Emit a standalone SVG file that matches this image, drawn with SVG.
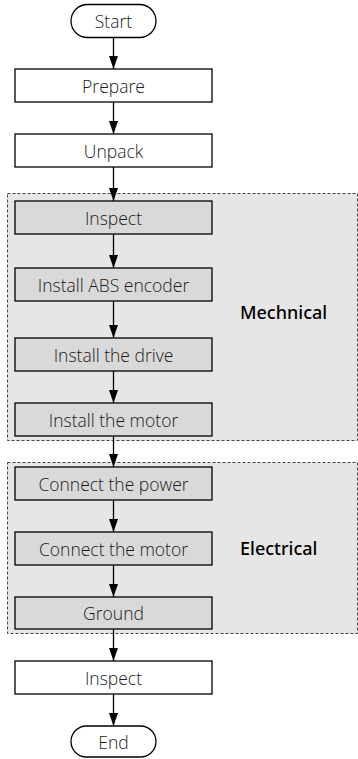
<svg xmlns="http://www.w3.org/2000/svg" width="358" height="759" viewBox="0 0 358 759">
<defs>
<marker id="ah" viewBox="0 0 13 9" refX="13" refY="4.5" markerWidth="13" markerHeight="9" markerUnits="userSpaceOnUse" orient="auto">
<path d="M0,0 L13,4.5 L0,9 z" fill="#000"/>
</marker>
<style>
.grp{fill:#e6e6e6;stroke:#444;stroke-width:1;stroke-dasharray:3 2}
.box{fill:#fff;stroke:#000;stroke-width:1.3}
.gbox{fill:#d9d9d9;stroke:#000;stroke-width:1.3}
.t{font-family:"Source Sans Pro","Open Sans","Noto Sans",sans-serif;font-size:17.5px;font-weight:300;fill:#1a1a1a;text-anchor:middle;dominant-baseline:central}
.lbl{font-family:"Noto Sans","Open Sans",sans-serif;font-size:18px;font-weight:500;fill:#000;dominant-baseline:central}
.c{stroke:#000;stroke-width:1.3;fill:none;marker-end:url(#ah)}
</style>
</defs>
<g id="mech-group"><rect class="grp" x="7.5" y="193.5" width="350" height="247"/><text class="lbl" x="240" y="312">Mechnical</text></g>
<g id="elec-group"><rect class="grp" x="7.5" y="462.5" width="350" height="171"/><text class="lbl" x="240" y="548">Electrical</text></g>
<g id="start"><rect class="box" x="71" y="4.5" width="85" height="33" rx="16.5"/><text class="t" x="113.5" y="21">Start</text></g>
<g id="prepare"><rect class="box" x="15" y="69" width="197" height="33"/><text class="t" x="113.5" y="85.5">Prepare</text></g>
<g id="unpack"><rect class="box" x="15" y="134" width="197" height="33"/><text class="t" x="113.5" y="150.5">Unpack</text></g>
<g id="inspect1"><rect class="gbox" x="15" y="201" width="197" height="33"/><text class="t" x="113.5" y="217.5">Inspect</text></g>
<g id="abs"><rect class="gbox" x="15" y="268" width="197" height="33"/><text class="t" x="113.5" y="284.5">Install ABS encoder</text></g>
<g id="drive"><rect class="gbox" x="15" y="338" width="197" height="33"/><text class="t" x="113.5" y="354.5">Install the drive</text></g>
<g id="motor"><rect class="gbox" x="15" y="403" width="197" height="33"/><text class="t" x="113.5" y="419.5">Install the motor</text></g>
<g id="power"><rect class="gbox" x="15" y="467" width="197" height="33"/><text class="t" x="113.5" y="483.5">Connect the power</text></g>
<g id="cmotor"><rect class="gbox" x="15" y="532" width="197" height="33"/><text class="t" x="113.5" y="548.5">Connect the motor</text></g>
<g id="ground"><rect class="gbox" x="15" y="597" width="197" height="32"/><text class="t" x="113.5" y="613">Ground</text></g>
<g id="inspect2"><rect class="box" x="15" y="661" width="197" height="33"/><text class="t" x="113.5" y="677.5">Inspect</text></g>
<g id="end"><rect class="box" x="71" y="726" width="85" height="31" rx="15.5"/><text class="t" x="113.5" y="741.5">End</text></g>
<g id="connectors">
<line class="c" x1="113.5" y1="37.5" x2="113.5" y2="69"/>
<line class="c" x1="113.5" y1="102" x2="113.5" y2="134"/>
<line class="c" x1="113.5" y1="167" x2="113.5" y2="201"/>
<line class="c" x1="113.5" y1="234" x2="113.5" y2="268"/>
<line class="c" x1="113.5" y1="301" x2="113.5" y2="338"/>
<line class="c" x1="113.5" y1="371" x2="113.5" y2="403"/>
<line class="c" x1="113.5" y1="436" x2="113.5" y2="467"/>
<line class="c" x1="113.5" y1="500" x2="113.5" y2="532"/>
<line class="c" x1="113.5" y1="565" x2="113.5" y2="597"/>
<line class="c" x1="113.5" y1="629" x2="113.5" y2="661"/>
<line class="c" x1="113.5" y1="694" x2="113.5" y2="726"/>
</g>
</svg>
